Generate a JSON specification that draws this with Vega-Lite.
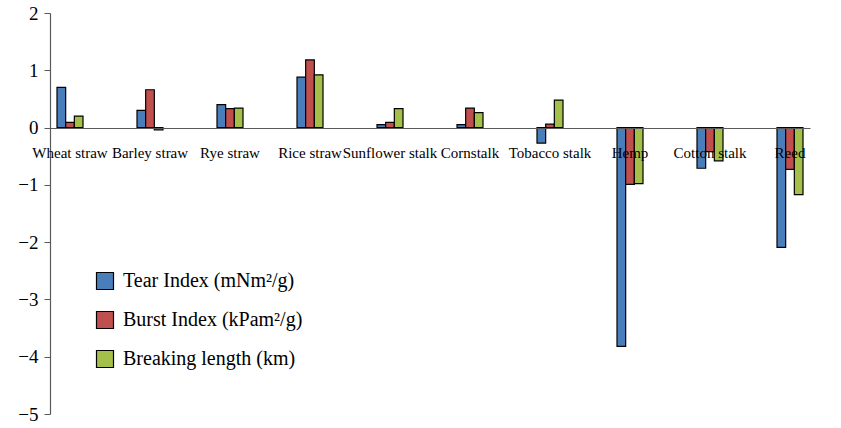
{
  "$schema": "https://vega.github.io/schema/vega-lite/v6.json",
  "width": 760,
  "height": 401,
  "autosize": {"type": "none"},
  "padding": {"left": 50, "top": 13, "right": 31, "bottom": 14},
  "background": "white",
  "config": {
    "view": {"stroke": null},
    "font": "Liberation Serif",
    "axis": {"labelFont": "Liberation Serif"},
    "legend": {"labelFont": "Liberation Serif"}
  },
  "data": {
    "values": [
      {"material": "Wheat straw", "series": "Tear Index (mNm²/g)", "value": 0.70},
      {"material": "Wheat straw", "series": "Burst Index (kPam²/g)", "value": 0.09},
      {"material": "Wheat straw", "series": "Breaking length (km)", "value": 0.20},
      {"material": "Barley straw", "series": "Tear Index (mNm²/g)", "value": 0.30},
      {"material": "Barley straw", "series": "Burst Index (kPam²/g)", "value": 0.66},
      {"material": "Barley straw", "series": "Breaking length (km)", "value": -0.04},
      {"material": "Rye straw", "series": "Tear Index (mNm²/g)", "value": 0.40},
      {"material": "Rye straw", "series": "Burst Index (kPam²/g)", "value": 0.33},
      {"material": "Rye straw", "series": "Breaking length (km)", "value": 0.34},
      {"material": "Rice straw", "series": "Tear Index (mNm²/g)", "value": 0.88},
      {"material": "Rice straw", "series": "Burst Index (kPam²/g)", "value": 1.18},
      {"material": "Rice straw", "series": "Breaking length (km)", "value": 0.92},
      {"material": "Sunflower stalk", "series": "Tear Index (mNm²/g)", "value": 0.05},
      {"material": "Sunflower stalk", "series": "Burst Index (kPam²/g)", "value": 0.09},
      {"material": "Sunflower stalk", "series": "Breaking length (km)", "value": 0.33},
      {"material": "Cornstalk", "series": "Tear Index (mNm²/g)", "value": 0.05},
      {"material": "Cornstalk", "series": "Burst Index (kPam²/g)", "value": 0.34},
      {"material": "Cornstalk", "series": "Breaking length (km)", "value": 0.26},
      {"material": "Tobacco stalk", "series": "Tear Index (mNm²/g)", "value": -0.27},
      {"material": "Tobacco stalk", "series": "Burst Index (kPam²/g)", "value": 0.06},
      {"material": "Tobacco stalk", "series": "Breaking length (km)", "value": 0.48},
      {"material": "Hemp", "series": "Tear Index (mNm²/g)", "value": -3.82},
      {"material": "Hemp", "series": "Burst Index (kPam²/g)", "value": -0.99},
      {"material": "Hemp", "series": "Breaking length (km)", "value": -0.98},
      {"material": "Cotton  stalk", "series": "Tear Index (mNm²/g)", "value": -0.71},
      {"material": "Cotton  stalk", "series": "Burst Index (kPam²/g)", "value": -0.42},
      {"material": "Cotton  stalk", "series": "Breaking length (km)", "value": -0.58},
      {"material": "Reed", "series": "Tear Index (mNm²/g)", "value": -2.09},
      {"material": "Reed", "series": "Burst Index (kPam²/g)", "value": -0.73},
      {"material": "Reed", "series": "Breaking length (km)", "value": -1.17}
    ]
  },
  "mark": {"type": "bar", "stroke": "#000000", "strokeWidth": 1.2},
  "encoding": {
    "x": {
      "field": "material",
      "type": "nominal",
      "sort": null,
      "scale": {"paddingInner": 0.675, "paddingOuter": 0.0875},
      "axis": {
        "title": null,
        "orient": "bottom",
        "offset": -286,
        "zindex": 1,
        "labelAngle": 0,
        "labelFont": "Liberation Serif",
        "labelFontSize": 15,
        "labelColor": "#000000",
        "labelPadding": 17,
        "labelOverlap": false,
        "ticks": false,
        "domainColor": "#595959",
        "domainWidth": 1.2,
        "encode": {
          "labels": {
            "update": {
              "dx": {"signal": "datum.value === 'Wheat straw' ? -19 : datum.value === 'Rice straw' ? -14 : datum.value === 'Sunflower stalk' ? -10 : datum.value === 'Cotton  stalk' ? 6 : datum.value === 'Tobacco stalk' || datum.value === 'Hemp' ? 2 : -2"}
            }
          }
        }
      }
    },
    "xOffset": {
      "field": "series",
      "type": "nominal",
      "sort": ["Tear Index (mNm²/g)", "Burst Index (kPam²/g)", "Breaking length (km)"]
    },
    "y": {
      "field": "value",
      "type": "quantitative",
      "scale": {"domain": [-5, 2], "nice": false, "zero": true},
      "axis": {
        "title": null,
        "values": [-5, -4, -3, -2, -1, 0, 1, 2],
        "format": "d",
        "grid": false,
        "labelFont": "Liberation Serif",
        "labelFontSize": 19,
        "labelColor": "#000000",
        "labelPadding": 6,
        "tickSize": 6,
        "tickColor": "#595959",
        "domainColor": "#595959",
        "domainWidth": 1.2
      }
    },
    "color": {
      "field": "series",
      "type": "nominal",
      "scale": {
        "domain": ["Tear Index (mNm²/g)", "Burst Index (kPam²/g)", "Breaking length (km)"],
        "range": ["#4A7EBB", "#C0504D", "#A5C04A"]
      },
      "legend": {
        "title": null,
        "orient": "none",
        "legendX": 45,
        "legendY": 258,
        "padding": 0,
        "symbolType": "square",
        "symbolSize": 289,
        "symbolStrokeColor": "#000000",
        "symbolStrokeWidth": 1.2,
        "labelFont": "Liberation Serif",
        "labelFontSize": 20,
        "labelColor": "#000000",
        "labelOffset": 8,
        "labelLimit": 400,
        "rowPadding": 17
      }
    }
  }
}
